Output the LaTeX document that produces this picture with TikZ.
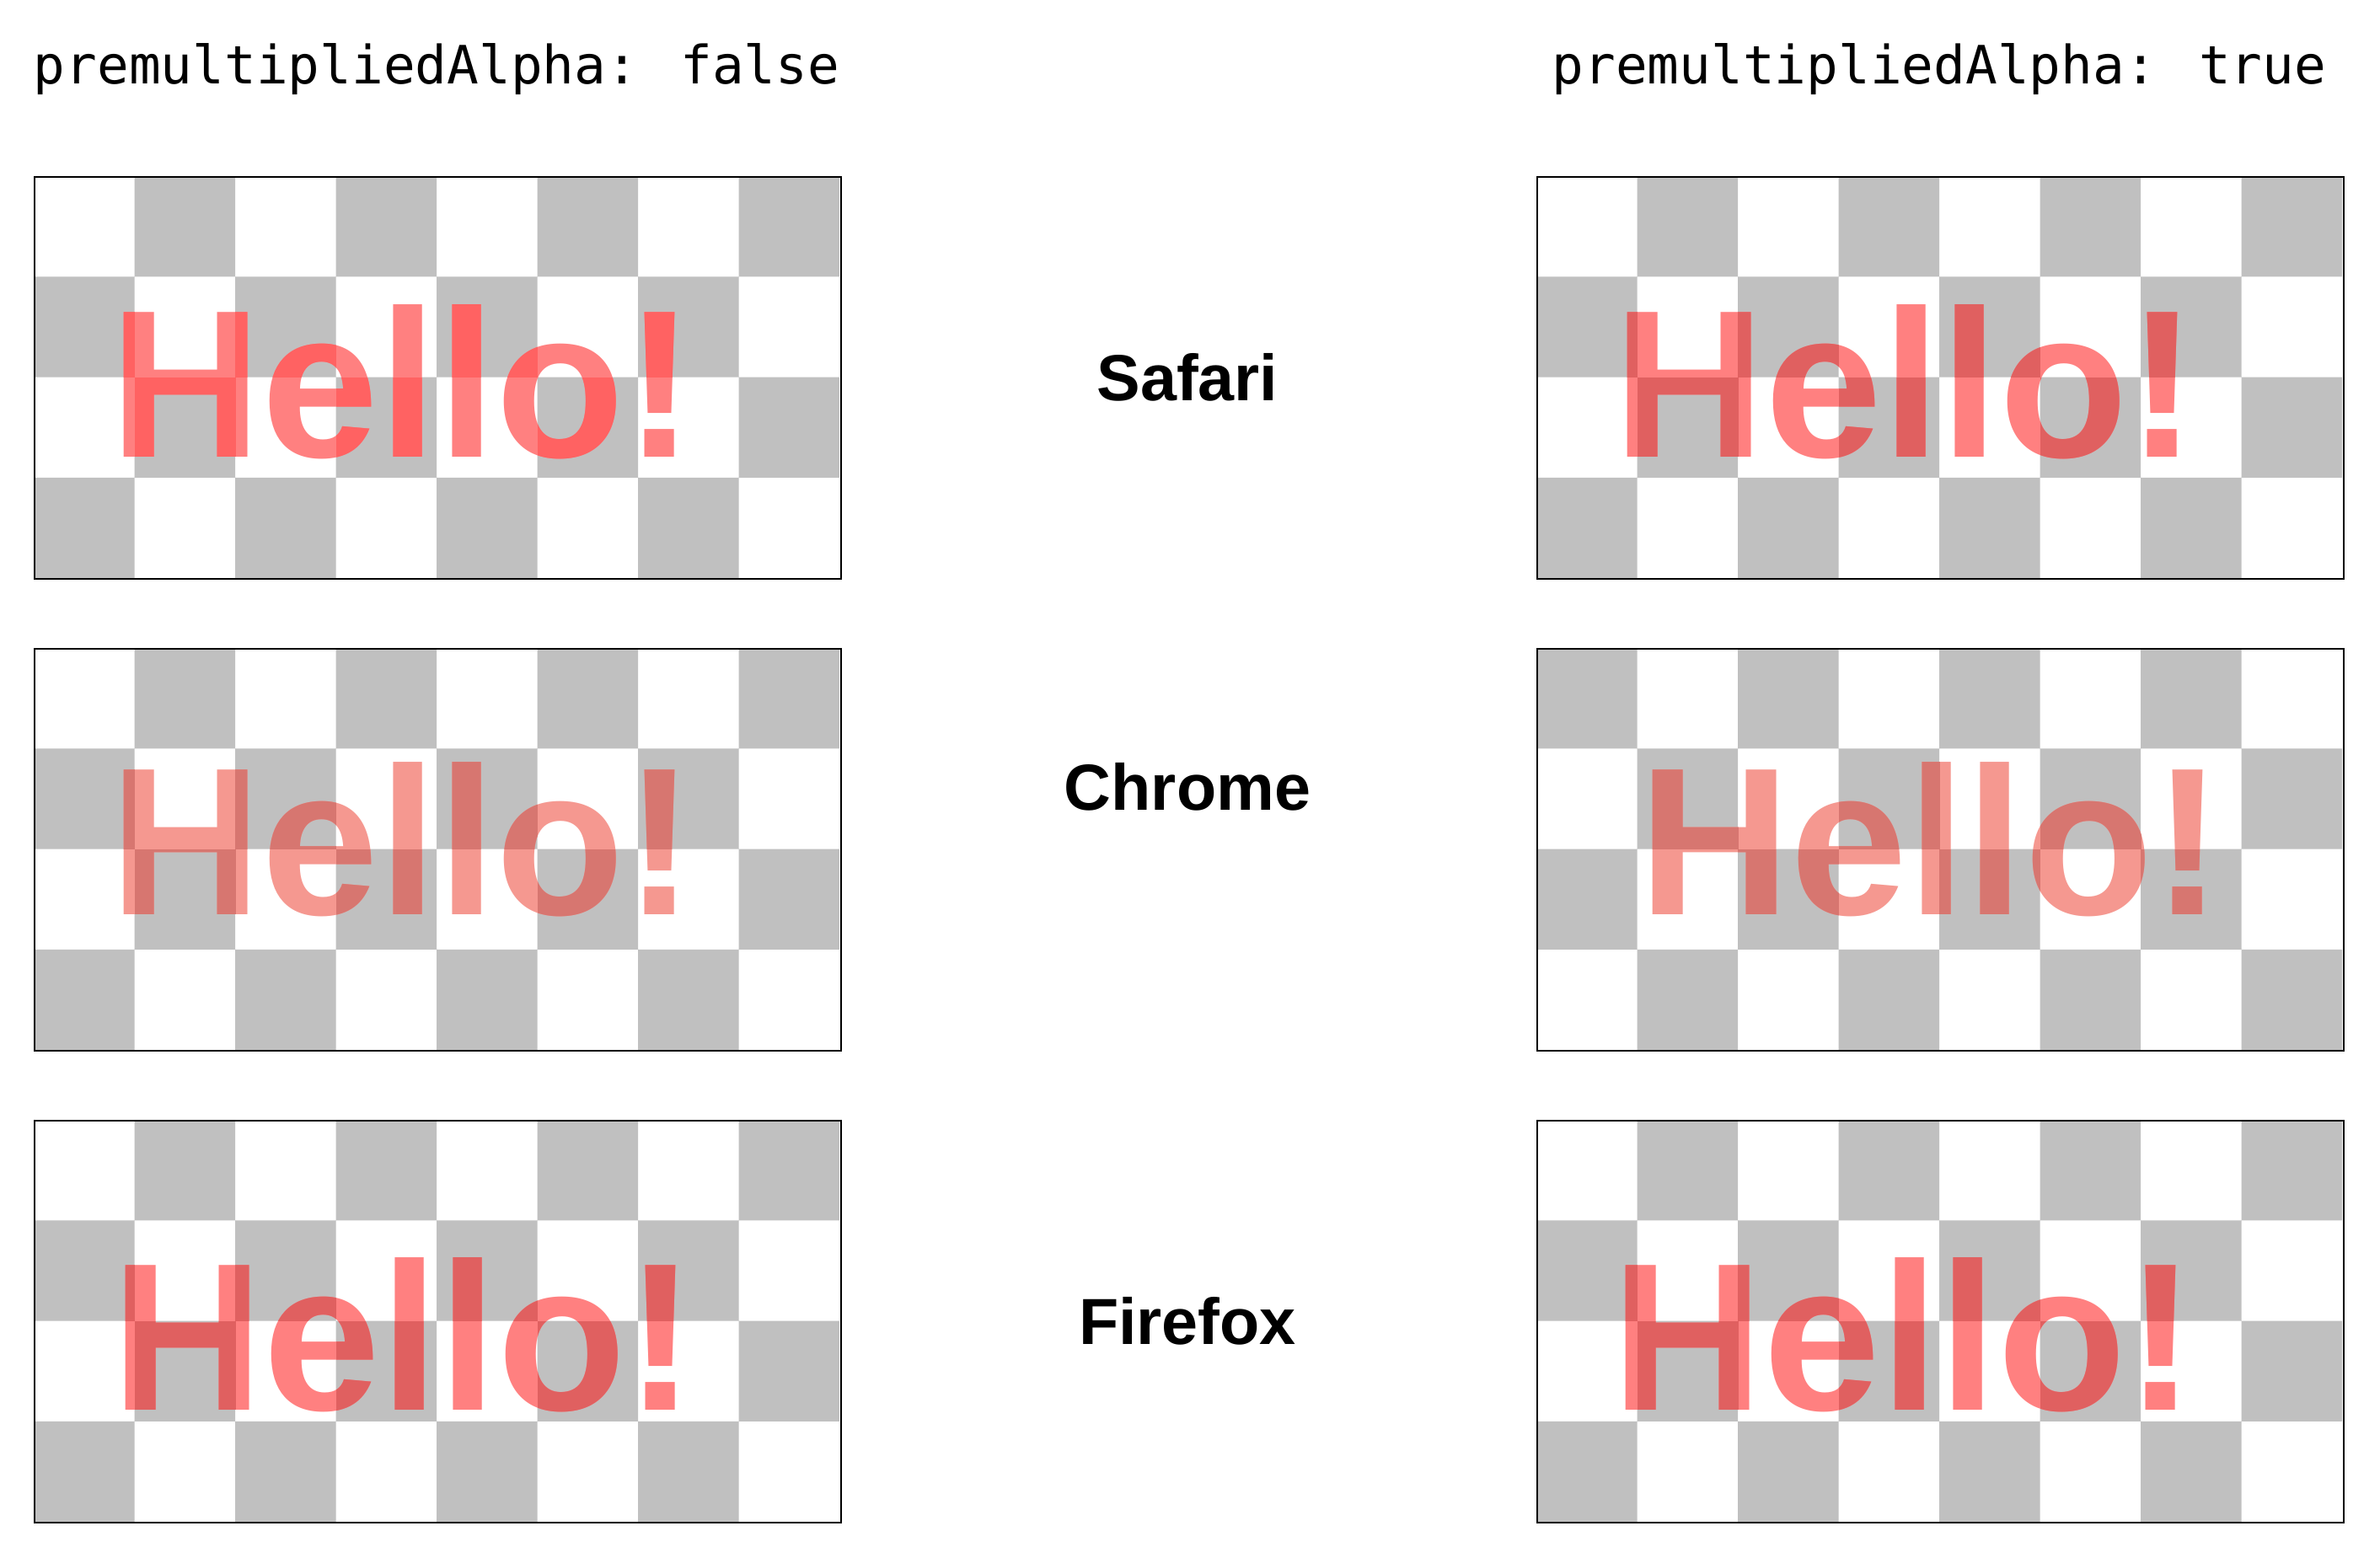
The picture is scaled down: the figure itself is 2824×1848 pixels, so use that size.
\documentclass[tikz,border=0pt]{standalone}
\usepackage{fontspec}
\setmainfont{Liberation Sans}
\newfontfamily\monofont{DejaVu Sans Mono}
\definecolor{cellgrey}{RGB}{192,192,192}
\definecolor{safFw}{RGB}{255,128,128}
\definecolor{safFg}{RGB}{255,98,98}
\definecolor{safTw}{RGB}{255,128,128}
\definecolor{safTg}{RGB}{224,96,96}
\definecolor{chrw}{RGB}{245,152,144}
\definecolor{chrg}{RGB}{215,118,112}
\definecolor{ffw}{RGB}{255,128,128}
\definecolor{ffg}{RGB}{224,96,96}
\tikzset{
  hello/.style={anchor=base west, inner sep=0pt, font=\fontsize{71}{71}\selectfont\bfseries},
  frame/.style={draw=black, line width=0.6pt, anchor=north west, inner sep=0pt,
                minimum width=9.56cm, minimum height=4.77cm},
  titletext/.style={anchor=base, inner sep=0pt, font=\monofont\fontsize{17.83}{20}\selectfont},
  blabel/.style={anchor=base, inner sep=0pt, font=\fontsize{22}{22}\selectfont\bfseries},
}
% #1 name, #2 x, #3 y, #4 parity (1: top-left white, 0: top-left grey),
% #5 text x, #6 baseline y, #7 colour over white, #8 colour over grey
\newcommand\drawpanel[8]{%
  \begin{scope}[shift={(#2,#3)}]
    \fill[white] (0,0) rectangle (956,477);
    \fill[cellgrey] \foreach \r in {0,...,3}{\foreach \k in {0,...,3}{
        ({(2*\k+mod(\r+#4,2))*119.5},{\r*119.25}) rectangle ++(119.5,119.25)}};
    \node[hello,text=#7] (#1) at (#5,#6) {Hello!};
    \begin{scope}
      \clip \foreach \r in {0,...,3}{\foreach \k in {0,...,3}{
        ({(2*\k+mod(\r+#4,2))*119.5},{\r*119.25}) rectangle ++(119.5,119.25)}};
      \node[hello,text=#8] (#1g) at (#5,#6) {Hello!};
    \end{scope}
    \node[frame] (#1f) at (0,0) {};
  \end{scope}}
\begin{document}
\begin{tikzpicture}[x=0.01cm,y=-0.01cm]
  \useasboundingbox (0,0) rectangle (2824,1848);
  \fill[white] (0,0) rectangle (2824,1848);

  \node[titletext] (tleft) at (518,99) {premultipliedAlpha: false};
  \node[titletext] (tright) at (2301,99) {premultipliedAlpha: true};

  \drawpanel{sf}{40}{209}{1}{90}{333}{safFw}{safFg}
  \drawpanel{cf}{40}{769}{1}{90}{316}{chrw}{chrg}
  \drawpanel{ff}{40}{1329}{1}{91.5}{344}{ffw}{ffg}

  \drawpanel{st}{1823}{209}{1}{90.6}{333}{safTw}{safTg}
  \drawpanel{ct}{1823}{769}{0}{120.7}{316}{chrw}{chrg}
  \drawpanel{ft}{1823}{1329}{1}{88.6}{344}{ffw}{ffg}

  \node[blabel] (safari) at (1409,475) {Safari};
  \node[blabel] (chrome) at (1409,961) {Chrome};
  \node[blabel] (firefox) at (1409,1595) {Firefox};
\end{tikzpicture}
\end{document}
